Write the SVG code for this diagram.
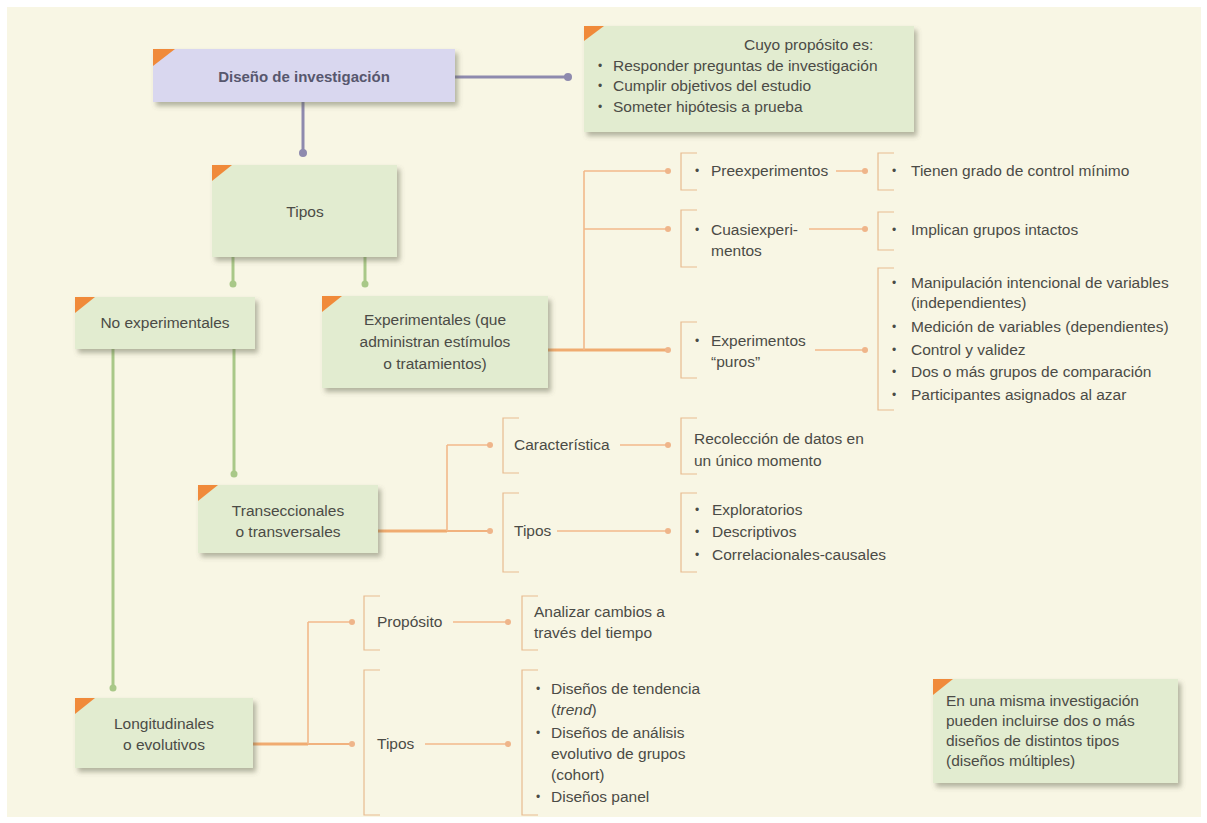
<svg xmlns="http://www.w3.org/2000/svg" width="1207" height="823" viewBox="0 0 1207 823">
<defs>
<style>
.t{font-family:"Liberation Sans",Arial,sans-serif;font-size:15.5px;fill:#4b4b46}
.c{text-anchor:middle}
.b{font-weight:bold;fill:#57576e;font-size:15px}
.bu{font-size:12px}
.box{fill:#e2ecd0}
.lav{fill:#d9d7ef}
.tri{fill:#f08a3a}
.og{stroke:#f2b98a;fill:none;stroke-width:1.6}
.ogm{stroke:#f1b27e;fill:none;stroke-width:2.2}
.ogt{stroke:#f0ab70;fill:none;stroke-width:3}
.br{stroke:#e8bb90;fill:none;stroke-width:1.2}
.gr{stroke:#a9c888;stroke-width:3;fill:none}
.pu{stroke:#8e8aae;stroke-width:3;fill:none}
.od{fill:#efb58a}
.gd{fill:#a9c888}
.pd{fill:#8e8aae}
</style>
<filter id="sh" x="-10%" y="-10%" width="130%" height="140%">
<feDropShadow dx="3" dy="4" stdDeviation="2.5" flood-color="#5f604c" flood-opacity="0.45"/>
</filter>
</defs>
<rect width="1207" height="823" fill="#ffffff"/>
<rect x="7" y="7" width="1194" height="810" fill="#f8f6e4"/>

<g id="connectors">
<path class="pu" d="M455,77 H568 M303,102 V153"/>
<circle class="pd" cx="568" cy="77" r="4"/>
<circle class="pd" cx="303" cy="153" r="4"/>
<path class="gr" d="M233,257 V284 M365,257 V284 M234,349 V474 M113,349 V688"/>
<circle class="gd" cx="233" cy="284" r="3.5"/>
<circle class="gd" cx="365" cy="284" r="3.5"/>
<circle class="gd" cx="234" cy="474" r="3.5"/>
<circle class="gd" cx="113" cy="688" r="3.5"/>
<path class="ogt" d="M548,350 H668"/>
<path class="og" d="M584,171 V350 M584,171 H668 M584,229 H668 M836,171 H865 M809,229 H865 M815,350 H865"/>
<circle class="od" cx="668" cy="171" r="3"/>
<circle class="od" cx="668" cy="229" r="3"/>
<circle class="od" cx="668" cy="350" r="3"/>
<circle class="od" cx="865" cy="171" r="3"/>
<circle class="od" cx="865" cy="229" r="3"/>
<circle class="od" cx="865" cy="350" r="3"/>
<path class="ogt" d="M378,531 H447"/>
<path class="ogm" d="M447,531 H490"/>
<path class="og" d="M447,445 V531 M447,445 H490 M620,445 H668 M557,531 H668"/>
<circle class="od" cx="490" cy="445" r="3"/>
<circle class="od" cx="490" cy="531" r="3"/>
<circle class="od" cx="668" cy="445" r="3"/>
<circle class="od" cx="668" cy="531" r="3"/>
<path class="ogt" d="M253,744 H308"/>
<path class="ogm" d="M308,744 H352"/>
<path class="og" d="M308,622 V744 M308,622 H352 M453,622 H508 M425,744 H508"/>
<circle class="od" cx="352" cy="622" r="3"/>
<circle class="od" cx="352" cy="744" r="3"/>
<circle class="od" cx="508" cy="622" r="3"/>
<circle class="od" cx="508" cy="744" r="3"/>
</g>

<g id="diseno">
<rect class="lav" x="153" y="49" width="302" height="53" filter="url(#sh)"/>
<path class="tri" d="M153,49 h22 L153,66 z"/>
<text class="t c b" x="304" y="82">Diseño de investigación</text>
</g>

<g id="proposito">
<rect class="box" x="584" y="26" width="330" height="106" filter="url(#sh)"/>
<path class="tri" d="M584,26 h20 L584,41 z"/>
<text class="t" x="744" y="50">Cuyo propósito es:</text>
<text class="t bu" x="598" y="70">•</text><text class="t" x="613" y="71">Responder preguntas de investigación</text>
<text class="t bu" x="598" y="90">•</text><text class="t" x="613" y="91">Cumplir objetivos del estudio</text>
<text class="t bu" x="598" y="111">•</text><text class="t" x="613" y="112">Someter hipótesis a prueba</text>
</g>

<g id="tipos">
<rect class="box" x="212" y="165" width="185" height="92" filter="url(#sh)"/>
<path class="tri" d="M212,165 h20 L212,181 z"/>
<text class="t c" x="305" y="217">Tipos</text>
</g>

<g id="no-experimentales">
<rect class="box" x="75" y="297" width="180" height="52" filter="url(#sh)"/>
<path class="tri" d="M75,297 h20 L75,313 z"/>
<text class="t c" x="165" y="328">No experimentales</text>
</g>

<g id="experimentales">
<rect class="box" x="322" y="296" width="226" height="92" filter="url(#sh)"/>
<path class="tri" d="M322,296 h20 L322,312 z"/>
<text class="t c" x="435" y="325">Experimentales (que</text>
<text class="t c" x="435" y="347">administran estímulos</text>
<text class="t c" x="435" y="369">o tratamientos)</text>
</g>

<g id="preexperimentos">
<path class="br" d="M697,153 H681 V190 H697"/>
<text class="t bu" x="695" y="175">•</text><text class="t" x="711" y="176">Preexperimentos</text>
</g>
<g id="control-minimo">
<path class="br" d="M894,153 H878 V190 H894"/>
<text class="t bu" x="892" y="175">•</text><text class="t" x="911" y="176">Tienen grado de control mínimo</text>
</g>
<g id="cuasiexperimentos">
<path class="br" d="M697,210 H681 V267 H697"/>
<text class="t bu" x="695" y="234">•</text><text class="t" x="711" y="235">Cuasiexperi-</text>
<text class="t" x="711" y="256">mentos</text>
</g>
<g id="grupos-intactos">
<path class="br" d="M894,212 H878 V250 H894"/>
<text class="t bu" x="892" y="234">•</text><text class="t" x="911" y="235">Implican grupos intactos</text>
</g>
<g id="experimentos-puros">
<path class="br" d="M697,322 H681 V378 H697"/>
<text class="t bu" x="695" y="345">•</text><text class="t" x="711" y="346">Experimentos</text>
<text class="t" x="711" y="367">“puros”</text>
</g>
<g id="puros-caracteristicas">
<path class="br" d="M894,268 H878 V410 H894"/>
<text class="t bu" x="892" y="287">•</text><text class="t" x="911" y="288">Manipulación intencional de variables</text>
<text class="t" x="911" y="308">(independientes)</text>
<text class="t bu" x="892" y="331">•</text><text class="t" x="911" y="332">Medición de variables (dependientes)</text>
<text class="t bu" x="892" y="354">•</text><text class="t" x="911" y="355">Control y validez</text>
<text class="t bu" x="892" y="376">•</text><text class="t" x="911" y="377">Dos o más grupos de comparación</text>
<text class="t bu" x="892" y="399">•</text><text class="t" x="911" y="400">Participantes asignados al azar</text>
</g>

<g id="transeccionales">
<rect class="box" x="198" y="485" width="180" height="68" filter="url(#sh)"/>
<path class="tri" d="M198,485 h20 L198,501 z"/>
<text class="t c" x="288" y="516">Transeccionales</text>
<text class="t c" x="288" y="537">o transversales</text>
</g>
<g id="caracteristica">
<path class="br" d="M519,418 H503 V473 H519"/>
<text class="t" x="514" y="450">Característica</text>
</g>
<g id="recoleccion">
<path class="br" d="M697,418 H681 V474 H697"/>
<text class="t" x="694" y="444">Recolección de datos en</text>
<text class="t" x="694" y="466">un único momento</text>
</g>
<g id="tipos-transeccionales">
<path class="br" d="M519,493 H503 V572 H519"/>
<text class="t" x="514" y="536">Tipos</text>
</g>
<g id="tipos-transeccionales-lista">
<path class="br" d="M697,493 H681 V572 H697"/>
<text class="t bu" x="695" y="514">•</text><text class="t" x="712" y="515">Exploratorios</text>
<text class="t bu" x="695" y="536">•</text><text class="t" x="712" y="537">Descriptivos</text>
<text class="t bu" x="695" y="559">•</text><text class="t" x="712" y="560">Correlacionales-causales</text>
</g>

<g id="longitudinales">
<rect class="box" x="75" y="698" width="178" height="70" filter="url(#sh)"/>
<path class="tri" d="M75,698 h20 L75,714 z"/>
<text class="t c" x="164" y="729">Longitudinales</text>
<text class="t c" x="164" y="750">o evolutivos</text>
</g>
<g id="proposito-longitudinal">
<path class="br" d="M380,596 H364 V650 H380"/>
<text class="t" x="377" y="627">Propósito</text>
</g>
<g id="analizar">
<path class="br" d="M538,596 H522 V650 H538"/>
<text class="t" x="534" y="617">Analizar cambios a</text>
<text class="t" x="534" y="638">través del tiempo</text>
</g>
<g id="tipos-longitudinales">
<path class="br" d="M380,670 H364 V815 H380"/>
<text class="t" x="377" y="749">Tipos</text>
</g>
<g id="tipos-longitudinales-lista">
<path class="br" d="M538,670 H522 V815 H538"/>
<text class="t bu" x="536" y="693">•</text><text class="t" x="551" y="694">Diseños de tendencia</text>
<text class="t" x="551" y="715">(<tspan font-style="italic">trend</tspan>)</text>
<text class="t bu" x="536" y="737">•</text><text class="t" x="551" y="738">Diseños de análisis</text>
<text class="t" x="551" y="759">evolutivo de grupos</text>
<text class="t" x="551" y="780">(cohort)</text>
<text class="t bu" x="536" y="801">•</text><text class="t" x="551" y="802">Diseños panel</text>
</g>

<g id="nota">
<rect class="box" x="933" y="679" width="245" height="104" filter="url(#sh)"/>
<path class="tri" d="M933,679 h20 L933,695 z"/>
<text class="t" x="946" y="706">En una misma investigación</text>
<text class="t" x="946" y="726">pueden incluirse dos o más</text>
<text class="t" x="946" y="746">diseños de distintos tipos</text>
<text class="t" x="946" y="766">(diseños múltiples)</text>
</g>
</svg>
